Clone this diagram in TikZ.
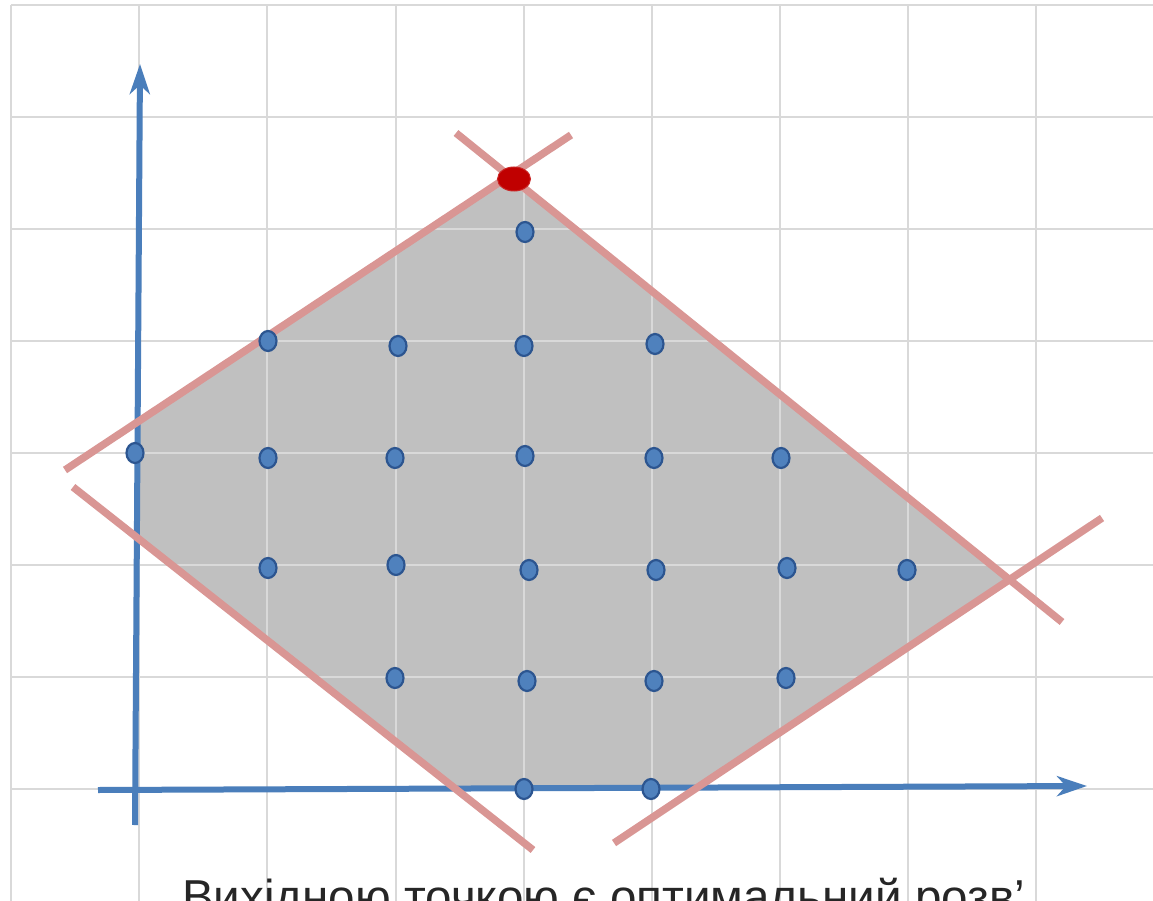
\documentclass[tikz,border=0pt]{standalone}
\usepackage{fontspec}
\setmainfont{Liberation Sans}
\usetikzlibrary{arrows.meta,shapes.geometric}
\definecolor{gridc}{HTML}{D9D9D9}
\definecolor{axisc}{HTML}{4A7EBB}
\definecolor{conc}{HTML}{D99694}
\definecolor{regc}{HTML}{C0C0C0}
\definecolor{ptfill}{HTML}{4F81BD}
\definecolor{ptdraw}{HTML}{2C5590}
\definecolor{optc}{HTML}{C00000}
\definecolor{txtc}{HTML}{262626}
\begin{document}
\begin{tikzpicture}[x=1pt,y=-1pt,
  gridline/.style={gridc,line width=1.5pt},
  axisline/.style={axisc,line width=6pt,-{Stealth[length=30pt,width=20pt,inset=9pt]}},
  constraint/.style={conc,line width=7.5pt},
  region/.style={fill=regc},
  pt/.style={ellipse,fill=ptfill,draw=ptdraw,line width=2.2pt,minimum width=17pt,minimum height=20pt,inner sep=0pt},
  opt/.style={ellipse,fill=optc,draw=optc!85!white,line width=1pt,minimum width=33pt,minimum height=24pt,inner sep=0pt},
  caption/.style={txtc,font=\fontsize{47.6}{56}\selectfont,anchor=base west,inner sep=0pt}]
\useasboundingbox (0,0) rectangle (1153,901);
\clip (0,0) rectangle (1153,901);
\fill[white] (0,0) rectangle (1153,901);
% feasible region
\fill[region] (137,424) -- (511,177) -- (1010,579) -- (695,788) -- (456,788) -- (137,535) -- cycle;
% grid
\foreach \x in {11,139,267,396,524,652,780,908,1036}
  \draw[gridline] (\x,5) -- (\x,901);
\foreach \y in {5,117,229,341,453,565,677,789}
  \draw[gridline] (11,\y) -- (1153,\y);
% axes
\coordinate (yb) at (135,825);
\coordinate (yt) at (140,64);
\coordinate (xl) at (98,790);
\coordinate (xr) at (1087,786);
\draw[axisline] (yb) -- (yt);
\draw[axisline] (xl) -- (xr);
% constraint lines
\coordinate (a1) at (65,470);   \coordinate (a2) at (571,135);
\coordinate (b1) at (456,133);  \coordinate (b2) at (1062,622);
\coordinate (c1) at (614,843);  \coordinate (c2) at (1102,518);
\coordinate (d1) at (73,487);   \coordinate (d2) at (533,850);
\draw[constraint] (a1) -- (a2);
\draw[constraint] (b1) -- (b2);
\draw[constraint] (c1) -- (c2);
\draw[constraint] (d1) -- (d2);
% integer points
\node[pt] (p1) at (135,453) {};
\node[pt] (p2) at (268,341) {};
\node[pt] (p3) at (398,346) {};
\node[pt] (p4) at (524,346) {};
\node[pt] (p5) at (655,344) {};
\node[pt] (p6) at (268,458) {};
\node[pt] (p7) at (395,458) {};
\node[pt] (p8) at (525,456) {};
\node[pt] (p9) at (654,458) {};
\node[pt] (p10) at (781,458) {};
\node[pt] (p11) at (268,568) {};
\node[pt] (p12) at (396,565) {};
\node[pt] (p13) at (529,570) {};
\node[pt] (p14) at (656,570) {};
\node[pt] (p15) at (787,568) {};
\node[pt] (p16) at (907,570) {};
\node[pt] (p17) at (395,678) {};
\node[pt] (p18) at (527,681) {};
\node[pt] (p19) at (654,681) {};
\node[pt] (p20) at (786,678) {};
\node[pt] (p21) at (524,789) {};
\node[pt] (p22) at (651,789) {};
\node[pt] (p23) at (525,232) {};
\node[opt] (opt) at (514,179) {};
% caption
\node[caption] (cap) at (182,913) {Вихідною точкою є оптимальний розв’};
\end{tikzpicture}
\end{document}
